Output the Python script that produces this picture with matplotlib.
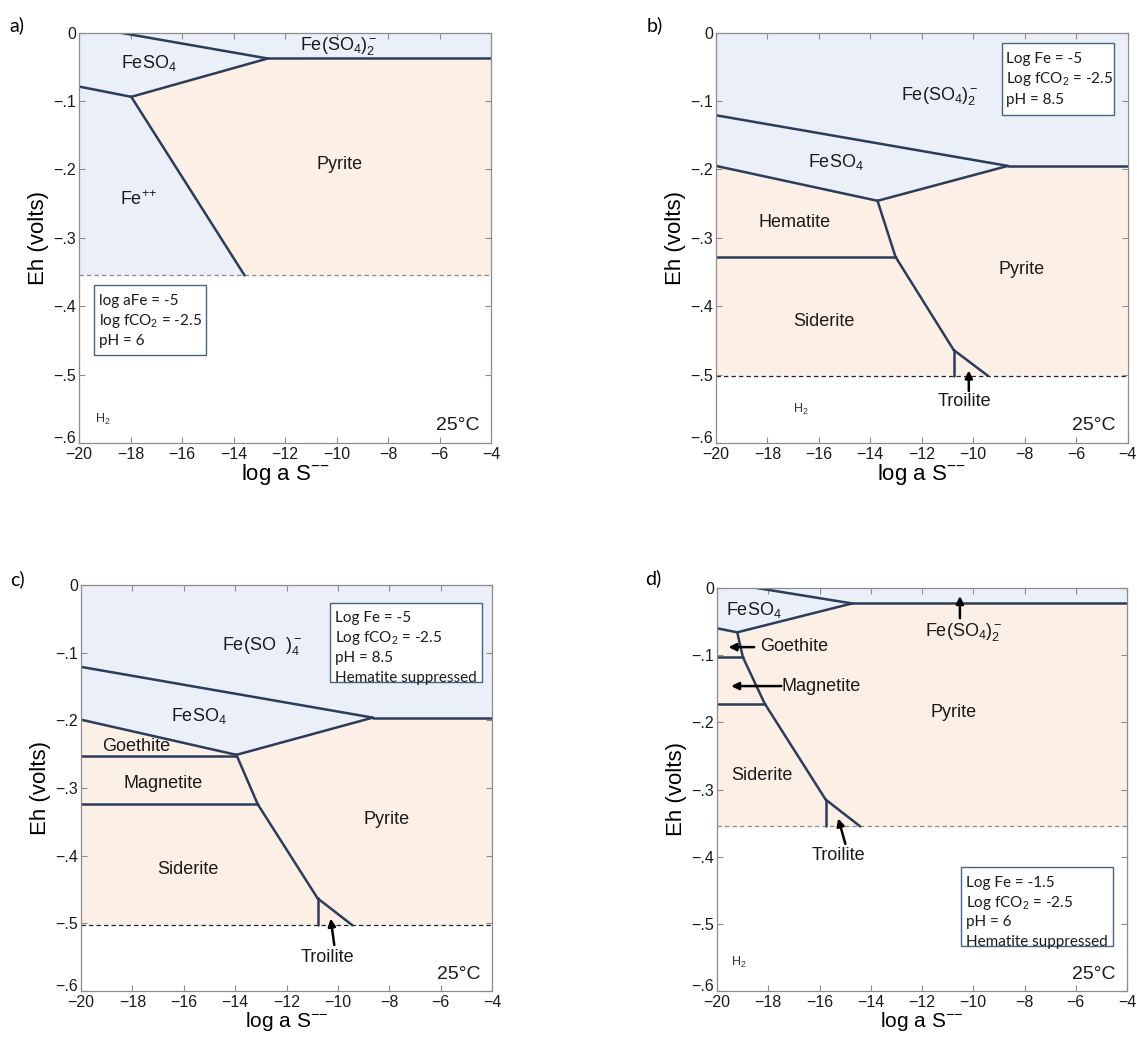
import matplotlib
matplotlib.use('Agg')
import matplotlib.pyplot as plt
from matplotlib.patches import Polygon, Rectangle

plt.rcParams['font.family'] = 'Liberation Sans'
plt.rcParams['mathtext.fontset'] = 'custom'
plt.rcParams['mathtext.rm'] = 'Liberation Sans'
plt.rcParams['mathtext.it'] = 'Liberation Sans:italic'
plt.rcParams['mathtext.bf'] = 'Liberation Sans:bold'

# Axes ranges and ticks (log a S--  vs  Eh)
x_ticks = [-20, -18, -16, -14, -12, -10, -8, -6, -4]
y_ticks = [-0.6, -0.5, -0.4, -0.3, -0.2, -0.1, 0.0]
y_ticklabels = ['\u2212.6', '\u2212.5', '\u2212.4', '\u2212.3', '\u2212.2', '\u2212.1', '0']

# ---- a) log aFe = -5, pH 6 ----
a_h2 = -0.355
a_lines = [
    ([-18.45, -12.67], [0.0, -0.038]),
    ([-12.67, -4.0], [-0.038, -0.038]),
    ([-20.0, -17.97], [-0.079, -0.094]),
    ([-17.97, -12.67], [-0.094, -0.038]),
    ([-17.97, -13.57], [-0.094, -0.355]),
]
a_aqueous = [(-20, 0), (-4, 0), (-4, -0.038), (-12.67, -0.038), (-17.97, -0.094),
             (-13.57, -0.355), (-20, -0.355)]
a_solid = [(-17.97, -0.094), (-12.67, -0.038), (-4, -0.038), (-4, -0.355), (-13.57, -0.355)]
a_labels = [
    (-17.3, -0.045, 'FeSO$_4$'),
    (-9.9, -0.020, 'Fe(SO$_4$)$_2^-$'),
    (-9.9, -0.193, 'Pyrite'),
    (-17.7, -0.245, 'Fe$^{{+}{+}}$'),
]
a_arrows = []
a_h2_label = (-19.07, -0.566)
a_box = (-19.42, -0.369, -15.05, -0.472)
a_box_text = ['log aFe = -5', 'log fCO$_2$ = -2.5', 'pH = 6']

# ---- b) Log Fe = -5, pH 8.5 ----
b_h2 = -0.502
b_lines = [
    ([-20.0, -8.65], [-0.121, -0.195]),
    ([-8.65, -4.0], [-0.195, -0.195]),
    ([-20.0, -13.72], [-0.195, -0.246]),
    ([-13.72, -8.65], [-0.246, -0.195]),
    ([-13.72, -13.02, -10.76], [-0.246, -0.328, -0.464]),
    ([-20.0, -13.02], [-0.328, -0.328]),
    ([-10.76, -10.76], [-0.464, -0.502]),
    ([-10.76, -9.42], [-0.464, -0.502]),
]
b_aqueous = [(-20, 0), (-4, 0), (-4, -0.195), (-8.65, -0.195), (-13.72, -0.246), (-20, -0.195)]
b_solid = [(-20, -0.195), (-13.72, -0.246), (-8.65, -0.195), (-4, -0.195), (-4, -0.502),
           (-20, -0.502)]
b_labels = [
    (-11.3, -0.093, 'Fe(SO$_4$)$_2^-$'),
    (-15.35, -0.190, 'FeSO$_4$'),
    (-16.95, -0.277, 'Hematite'),
    (-8.1, -0.346, 'Pyrite'),
    (-15.8, -0.423, 'Siderite'),
    (-10.35, -0.539, 'Troilite'),
]
b_arrows = [((-10.17, -0.524), (-10.17, -0.494))]
b_h2_label = (-16.7, -0.551)
b_box = (-8.89, -0.016, -4.53, -0.120)
b_box_text = ['Log Fe = -5', 'Log fCO$_2$ = -2.5', 'pH = 8.5']

# ---- c) Log Fe = -5, pH 8.5, hematite suppressed ----
c_h2 = -0.503
c_lines = [
    ([-20.0, -8.64], [-0.121, -0.196]),
    ([-8.64, -4.0], [-0.196, -0.196]),
    ([-20.0, -13.95], [-0.199, -0.251]),
    ([-13.95, -8.64], [-0.251, -0.196]),
    ([-20.0, -13.95], [-0.252, -0.252]),
    ([-13.95, -13.12, -10.79], [-0.251, -0.324, -0.463]),
    ([-20.0, -13.12], [-0.324, -0.324]),
    ([-10.79, -10.79], [-0.463, -0.503]),
    ([-10.79, -9.43], [-0.463, -0.503]),
]
c_aqueous = [(-20, 0), (-4, 0), (-4, -0.196), (-8.64, -0.196), (-13.95, -0.251), (-20, -0.199)]
c_solid = [(-20, -0.199), (-13.95, -0.251), (-8.64, -0.196), (-4, -0.196), (-4, -0.503),
           (-20, -0.503)]
c_labels = [
    (-12.95, -0.090, 'Fe(SO  )$_4^-$'),
    (-15.4, -0.193, 'FeSO$_4$'),
    (-17.85, -0.238, 'Goethite'),
    (-16.8, -0.293, 'Magnetite'),
    (-8.1, -0.346, 'Pyrite'),
    (-15.85, -0.421, 'Siderite'),
    (-10.4, -0.550, 'Troilite'),
]
c_arrows = [((-10.14, -0.532), (-10.28, -0.493))]
c_h2_label = None
c_box = (-10.31, -0.026, -4.40, -0.143)
c_box_text = ['Log Fe = -5', 'Log fCO$_2$ = -2.5', 'pH = 8.5', 'Hematite suppressed']

# ---- d) Log Fe = -1.5, pH 6, hematite suppressed ----
d_h2 = -0.355
d_lines = [
    ([-18.45, -14.73], [0.0, -0.023]),
    ([-14.73, -4.0], [-0.023, -0.023]),
    ([-20.0, -19.21], [-0.060, -0.066]),
    ([-19.21, -14.73], [-0.066, -0.023]),
    ([-19.21, -18.99, -18.14, -15.76], [-0.066, -0.103, -0.172, -0.315]),
    ([-20.0, -18.99], [-0.103, -0.103]),
    ([-20.0, -18.14], [-0.172, -0.172]),
    ([-15.76, -15.76], [-0.315, -0.355]),
    ([-15.76, -14.41], [-0.315, -0.355]),
]
d_aqueous = [(-20, 0), (-4, 0), (-4, -0.023), (-14.73, -0.023), (-19.21, -0.066), (-20, -0.060)]
d_solid = [(-20, -0.060), (-19.21, -0.066), (-14.73, -0.023), (-4, -0.023), (-4, -0.355),
           (-20, -0.355)]
d_labels = [
    (-18.55, -0.033, 'FeSO$_4$'),
    (-10.35, -0.065, 'Fe(SO$_4$)$_2^-$'),
    (-10.75, -0.186, 'Pyrite'),
    (-18.25, -0.279, 'Siderite'),
    (-15.25, -0.399, 'Troilite'),
]
d_side_labels = [
    (-18.3, -0.087, 'Goethite'),
    (-17.5, -0.146, 'Magnetite'),
]
d_arrows = [
    ((-10.52, -0.045), (-10.52, -0.012)),
    ((-18.55, -0.088), (-19.55, -0.088)),
    ((-17.49, -0.146), (-19.45, -0.146)),
    ((-14.99, -0.381), (-15.27, -0.343)),
]
d_h2_label = (-19.14, -0.558)
d_box = (-10.47, -0.416, -4.56, -0.533)
d_box_text = ['Log Fe = -1.5', 'Log fCO$_2$ = -2.5', 'pH = 6', 'Hematite suppressed']

LINE = '#2b3d5a'
AQ_FILL = '#eaeff8'
SOLID_FILL = '#fcf0e6'
FRAME = '#8c8c8c'


def draw_panel(ax, lines, aqueous, solid, h2_level, h2_color, labels, arrows,
               h2_label, box, box_text, xlabel_size=16):
    ax.add_patch(Polygon(aqueous, closed=True, facecolor=AQ_FILL, edgecolor='none', zorder=0))
    ax.add_patch(Polygon(solid, closed=True, facecolor=SOLID_FILL, edgecolor='none', zorder=0))
    ax.plot([-20, -4], [h2_level, h2_level], color=h2_color, lw=0.9,
            linestyle=(0, (3.5, 2.5)), zorder=1)
    for xs, ys in lines:
        ax.plot(xs, ys, color=LINE, lw=1.8, solid_capstyle='round',
                solid_joinstyle='round', zorder=2)
    for x, y, s in labels:
        ax.text(x, y, s, ha='center', va='center', fontsize=13, color='#1a1a1a', zorder=3)
    for tail, head in arrows:
        ax.annotate('', xy=head, xytext=tail,
                    arrowprops=dict(arrowstyle='-|>', color='k', lw=1.8,
                                    mutation_scale=11, shrinkA=0, shrinkB=0),
                    zorder=3)
    if h2_label is not None:
        ax.text(h2_label[0], h2_label[1], 'H$_2$', ha='center', va='center',
                fontsize=9, color='#333333')
    ax.text(-5.3, -0.575, '25\u00b0C', ha='center', va='center', fontsize=14, color='#1a1a1a')

    # condition box
    x0, y0, x1, y1 = box
    ax.add_patch(Rectangle((x0, y1), x1 - x0, y0 - y1, facecolor='white',
                           edgecolor='#4a6488', lw=1.0, zorder=4))
    for i, s in enumerate(box_text):
        ax.text(x0 + 0.18, y0 - 0.023 - i * 0.0295, s, ha='left', va='center',
                fontsize=11, family='Lato', color='#1a1a1a', zorder=5)

    ax.set_xlim(-20, -4)
    ax.set_ylim(-0.6, 0)
    ax.set_xticks(x_ticks)
    ax.set_yticks(y_ticks, labels=y_ticklabels)
    ax.tick_params(direction='in', length=4, width=0.8, color=FRAME, top=True,
                   right=True, labelsize=11.5, pad=2, labelcolor='#1a1a1a')
    ax.tick_params(axis='x', pad=3)
    # lift the bottom y label off the corner so it sits above the -20 label
    ax.get_yticklabels()[0].set_verticalalignment('baseline')
    for sp in ax.spines.values():
        sp.set_color(FRAME)
        sp.set_linewidth(0.9)
    ax.set_xlabel('log a S$^{{-}{-}}$', fontsize=xlabel_size, labelpad=0)
    ax.set_ylabel('Eh (volts)', fontsize=16, labelpad=3)


W, H = 1137, 1037
fig = plt.figure(figsize=(W / 100, H / 100), dpi=100)


def axes_px(left, top, right, bottom):
    return fig.add_axes([left / W, 1 - bottom / H, (right - left) / W, (bottom - top) / H])


ax_a = axes_px(79, 32.5, 491, 443)
ax_b = axes_px(716, 32.5, 1127.5, 443)
ax_c = axes_px(81, 585, 492, 991)
ax_d = axes_px(717, 588, 1127, 991)

draw_panel(ax_a, a_lines, a_aqueous, a_solid, a_h2, '#8a8a8a', a_labels, a_arrows,
           a_h2_label, a_box, a_box_text)
draw_panel(ax_b, b_lines, b_aqueous, b_solid, b_h2, '#222222', b_labels, b_arrows,
           b_h2_label, b_box, b_box_text)
draw_panel(ax_c, c_lines, c_aqueous, c_solid, c_h2, '#222222', c_labels, c_arrows,
           c_h2_label, c_box, c_box_text, xlabel_size=15)
draw_panel(ax_d, d_lines, d_aqueous, d_solid, d_h2, '#8a8a8a', d_labels, d_arrows,
           d_h2_label, d_box, d_box_text, xlabel_size=15)
for x, y, s in d_side_labels:
    ax_d.text(x, y, s, ha='left', va='center', fontsize=13, color='#1a1a1a', zorder=3)

for x, y, s in [(17, 25, 'a)'), (655, 25, 'b)'), (17, 579, 'c)'), (653, 578, 'd)')]:
    fig.text(x / W, 1 - y / H, s, ha='center', va='center', fontsize=14, family='Lato')

fig.savefig('out.png', dpi=100)
